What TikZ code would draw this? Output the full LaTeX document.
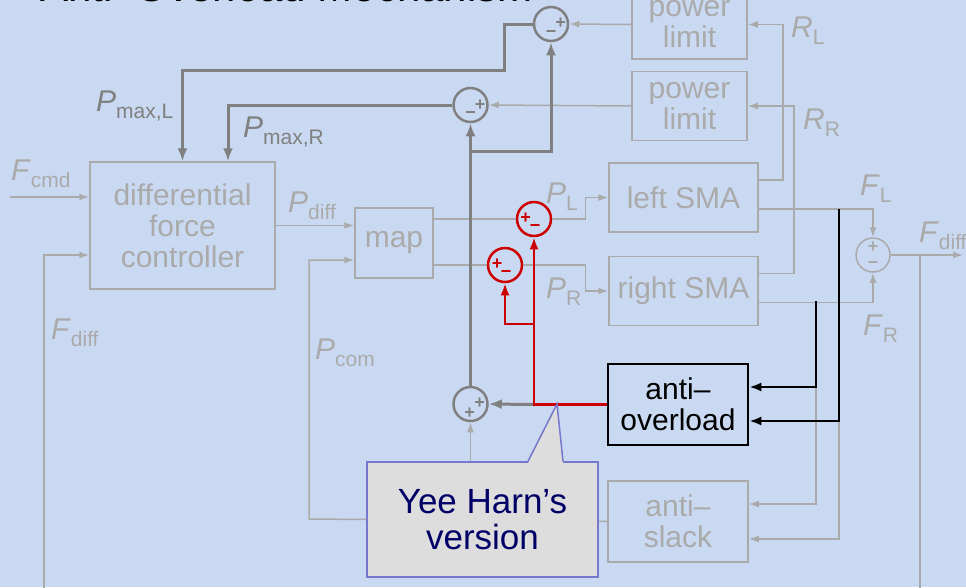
\documentclass[tikz,border=0pt]{standalone}
\usepackage{fontspec}
\setmainfont{Liberation Sans}
\usetikzlibrary{arrows.meta,positioning}
\definecolor{slidebg}{RGB}{202,217,242}
\definecolor{faded}{RGB}{170,170,170}
\definecolor{strong}{RGB}{128,128,128}
\definecolor{fixred}{RGB}{204,0,0}
\definecolor{notefill}{RGB}{221,221,221}
\definecolor{noteline}{RGB}{119,119,204}
\definecolor{notetext}{RGB}{0,0,102}
\newcommand{\sigvar}[2]{\textit{#1}\raisebox{-7pt}{\fontsize{21}{21}\selectfont #2}}
\tikzset{
  block/.style={
    rectangle,
    draw=faded,
    line width=1.5pt,
    text=faded,
    align=center,
    inner sep=0pt,
    font=\fontsize{30}{31}\selectfont
  },
  overbox/.style={
    block,
    draw=black,
    text=black,
    line width=2.5pt
  },
  sumnode/.style={
    circle,
    draw=strong,
    line width=2.5pt,
    minimum size=34pt,
    inner sep=0pt
  },
  fixsum/.style={
    sumnode,
    draw=fixred
  },
  fadesum/.style={
    sumnode,
    draw=faded,
    line width=1.5pt
  },
  sign/.style={
    inner sep=0pt,
    text=strong,
    font=\fontsize{18}{18}\selectfont\bfseries
  },
  lbl/.style={
    anchor=base west,
    inner sep=0pt,
    text=faded,
    font=\fontsize{30}{31}\selectfont
  },
  lbldark/.style={
    lbl,
    text=strong
  },
  wire/.style={
    draw=faded,
    line width=1.5pt
  },
  feed/.style={
    wire,
    -{Latex[length=10pt,width=7pt]}
  },
  power/.style={
    draw=strong,
    line width=3pt,
    -{Latex[length=13pt,width=10pt]}
  },
  fix/.style={
    draw=fixred,
    line width=2.5pt,
    -{Latex[length=12pt,width=9pt]}
  },
  over/.style={
    draw=black,
    line width=2.5pt,
    -{Latex[length=12pt,width=9pt]}
  },
  note/.style={
    rectangle,
    fill=notefill,
    draw=noteline,
    line width=1.5pt,
    text=notetext,
    align=center,
    minimum width=231pt,
    minimum height=115pt,
    font=\fontsize{35}{36}\selectfont
  }
}
\begin{document}
\begin{tikzpicture}[x=1pt,y=-1pt]
  \useasboundingbox (0,0) rectangle (966,587);
  \clip (0,0) rectangle (966,587);
  \fill[slidebg] (0,0) rectangle (966,587);

  \node[anchor=base west, inner sep=0pt, font=\fontsize{42}{42}\selectfont] (title) at (40,1.5) {Anti–Overload Mechanism};

  \node[block, minimum width=185pt, minimum height=127pt] (ctrl) at (182.5,225.5) {differential\\force\\controller};
  \node[block, minimum width=78pt, minimum height=70pt] (map) at (394,243) {map};
  \node[block, minimum width=149pt, minimum height=69pt] (lsma) at (683.5,197.5) {left SMA};
  \node[block, minimum width=149pt, minimum height=69pt, below=23pt of lsma] (rsma) {right SMA};
  \node[block, minimum width=115pt, minimum height=69pt] (plimL) at (689.5,24.5) {power\\limit};
  \node[block, minimum width=115pt, minimum height=69pt, below=11pt of plimL] (plimR) {power\\limit};
  \node[overbox, minimum width=140pt, minimum height=81pt] (aover) at (678,404.5) {anti–\\overload};
  \node[block, minimum width=140pt, minimum height=81pt, below=34pt of aover] (aslack) {anti–\\slack};

  \node[sumnode] (sL) at (551,24) {};
  \node[sumnode] (sR) at (470.5,105) {};
  \node[sumnode] (sC) at (470.5,404) {};
  \node[fadesum] (sF) at (873,255) {};
  \node[fixsum] (rL) at (534,219) {};
  \node[fixsum] (rR) at (505,265) {};

  \node[sign] (sL-p) at ([xshift=9.5pt,yshift=1pt]sL.center) {+};
  \node[sign] (sL-m) at ([yshift=-10pt]sL.center) {−};
  \node[sign] (sR-p) at ([xshift=9.5pt]sR.center) {+};
  \node[sign] (sR-m) at ([yshift=-10pt]sR.center) {−};
  \node[sign] (sC-p) at ([xshift=9pt,yshift=1pt]sC.center) {+};
  \node[sign] (sC-q) at ([xshift=-1pt,yshift=-9pt]sC.center) {+};
  \node[sign, text=faded] (sF-p) at ([yshift=8pt]sF.center) {+};
  \node[sign, text=faded] (sF-m) at ([yshift=-10pt]sF.center) {−};
  \node[sign, text=fixred] (rL-p) at ([xshift=-8.5pt,yshift=1pt]rL.center) {+};
  \node[sign, text=fixred] (rL-m) at ([xshift=1pt,yshift=-9pt]rL.center) {−};
  \node[sign, text=fixred] (rR-p) at ([xshift=-8pt,yshift=1pt]rR.center) {+};
  \node[sign, text=fixred] (rR-m) at ([xshift=1pt,yshift=-9pt]rR.center) {−};

  \node[lbldark] (pmaxL) at (96,111) {\sigvar{P}{max,L}};
  \node[lbldark] (pmaxR) at (243,137) {\sigvar{P}{max,R}};
  \node[lbl] (fcmdlbl) at (11,180) {\sigvar{F}{cmd}};
  \node[lbl] (pdiff) at (288,212) {\sigvar{P}{diff}};
  \node[lbl] (fdiffL) at (51,339) {\sigvar{F}{diff}};
  \node[lbl] (pcom) at (315,359) {\sigvar{P}{com}};
  \node[lbl] (pllbl) at (546,203) {\sigvar{P}{L}};
  \node[lbl] (prlbl) at (546,298) {\sigvar{P}{R}};
  \node[lbl] (rllbl) at (791,37) {\sigvar{R}{L}};
  \node[lbl] (rrlbl) at (803,129) {\sigvar{R}{R}};
  \node[lbl] (fllbl) at (860,195) {\sigvar{F}{L}};
  \node[lbl] (fdiffR) at (919,242) {\sigvar{F}{diff}};
  \node[lbl] (frlbl) at (863,335) {\sigvar{F}{R}};

  \coordinate (fcmd) at (10,197);
  \coordinate (fout) at (963,255);
  \coordinate (ftap) at (920,255);
  \coordinate (fback) at (44,255);
  \coordinate (tapL) at (839,209);
  \coordinate (tapR) at (816,301);
  \coordinate (pc) at (309,519);
  \coordinate (br) at (470.5,151);
  \coordinate (pml) at (182.5,70);
  \coordinate (rb) at (534,324);

  \draw[feed] (fcmd) -- (fcmd -| ctrl.west);
  \draw[feed] (ctrl.east) -- (ctrl.east -| map.west);
  \draw[feed] (ftap) -- ++(0,350) -| (fback) -- (fback -| ctrl.west);
  \draw[wire] (map.east |- rL) -- (rL.west);
  \draw[feed] (rL.east) -- ++(33,0) |- (lsma.west);
  \draw[wire] (map.east |- rR) -- (rR.west);
  \draw[feed] (rR.east) -- ++(62,0) |- (rsma.west);
  \draw[feed] (plimL.west) -- (sL.east);
  \draw[feed] (plimR.west) -- (sR.east);
  \draw[feed] ([yshift=17.5pt]lsma.east) -- ++(24,0) |- (plimL.east);
  \draw[feed] ([yshift=17.5pt]rsma.east) -- ++(35,0) |- (plimR.east);
  \draw[feed] ([yshift=-11.5pt]lsma.east) -| (sF.north);
  \draw[feed] ([yshift=-11.5pt]rsma.east) -| (sF.south);
  \draw[feed] (sF.east) -- (fout);
  \draw[feed] (tapL) |- ([yshift=-17.5pt]aslack.east);
  \draw[feed] (tapR) |- ([yshift=17.5pt]aslack.east);
  \draw[feed] (aslack.west) -- (pc) |- ([yshift=-17pt]map.west);
  \draw[feed] (sC |- pc) -- (sC.south);

  \draw[power] (sC.north) -- (sR.south);
  \draw[power] (br) -| (sL.south);
  \draw[power] (sL.west) -- ++(-28,0) |- (pml) -- (ctrl.north);
  \draw[power] (sR.west) -| ([xshift=45.5pt]ctrl.north);
  \draw[power] (rL |- aover) -- (sC.east);

  \draw[fix] (aover.west) -| (rL.south);
  \draw[fix] (rb) -| (rR.south);

  \draw[over] (tapL) |- ([yshift=-16.5pt]aover.east);
  \draw[over] (tapR) |- ([yshift=17.5pt]aover.east);

  \node[note] (yh) at (482.5,519.5) {Yee Harn’s\\version};
  \coordinate (tip) at (557,404);
  \fill[notefill] ([xshift=45.5pt,yshift=-2pt]yh.north) -- (tip) -- ([xshift=80.5pt,yshift=-2pt]yh.north) -- cycle;
  \draw[noteline, line width=1.5pt] ([xshift=45.5pt]yh.north) -- (tip) -- ([xshift=80.5pt]yh.north);
\end{tikzpicture}
\end{document}
